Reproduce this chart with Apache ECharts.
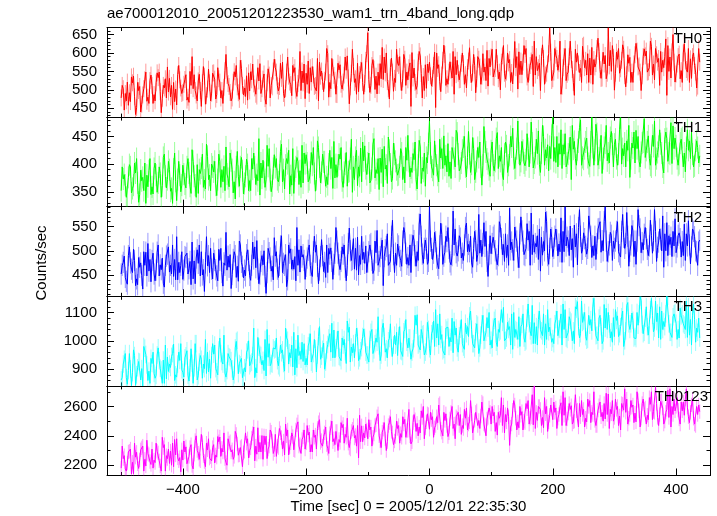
<!DOCTYPE html>
<html>
<head>
<meta charset="utf-8">
<script src="https://cdn.jsdelivr.net/npm/echarts@6/dist/echarts.min.js"></script>
<style>
  html, body { margin: 0; padding: 0; background: #fff; }
  #chart { width: 717px; height: 516px; }
</style>
</head>
<body>
<div id="chart"></div>
<script>
// ---- data ----
// Each 5 s slot holds three readings: "A" at t = -500 + 5*i s, "C" at t + 5/3 s, "B" at t + 10/3 s.
const TIME_START = -500;
const TIME_STEP = 5;
const SUB_STEP = 5 / 3;

const bandNames = ["TH0", "TH1", "TH2", "TH3", "TH0123"];
// typical 1-sigma error bar of a point in each band (counts/sec)
const errorBars = [23, 20, 22, 31, 49];

const th0A = [
  478,445,521,468,537,452,509,486,548,463,
  512,470,533,438,505,562,481,520,459,527,
  493,541,466,590,498,524,455,537,502,470,
  546,487,521,463,596,509,478,535,492,558,
  505,472,549,516,483,571,529,461,540,508,
  560,497,531,478,589,514,547,482,604,519,
  545,490,563,512,470,551,526,598,503,539,
  487,568,521,553,462,610,530,495,574,517,
  655,512,556,489,571,528,600,475,548,520,
  566,498,583,527,455,559,511,592,536,504,
  575,531,452,568,540,596,515,553,488,580,
  528,571,505,614,546,492,583,537,562,510,
  589,533,571,500,620,548,582,516,560,603,
  541,596,520,578,632,552,498,585,545,668,
  530,594,571,510,612,548,582,485,600,558,
  621,540,586,515,571,604,532,593,668,550,
  499,583,557,610,541,588,520,626,565,538,
  592,549,618,527,575,604,560,485,589,650,
  543,597,520,578,612,531,566,510
];
const th0C = [
  512,490,458,535,481,520,440,503,469,525,
  463,519,548,477,530,494,512,468,541,505,
  515,472,550,503,486,542,519,461,556,491,
  529,560,478,507,539,493,521,566,474,512,
  482,546,527,505,560,490,543,519,478,551,
  548,509,575,503,537,484,560,517,498,570,
  515,560,540,497,575,523,548,480,585,526,
  572,515,540,592,508,563,488,541,520,580,
  528,566,501,548,530,589,522,560,496,610,
  590,530,512,560,601,520,575,544,498,570,
  538,566,600,522,580,512,548,532,590,545,
  572,515,560,542,596,530,562,598,525,585,
  610,558,530,575,545,600,520,562,590,541,
  575,612,548,596,540,560,590,515,570,602,
  548,585,632,560,525,590,555,610,570,520,
  560,598,540,582,612,555,602,530,565,620,
  545,612,580,538,595,520,570,605,548,590,
  605,560,540,612,585,548,590,620,532,575,
  570,530,600,555,520,590,548,612
];
const th0B = [
  503,470,492,519,433,498,461,527,480,540,
  487,546,495,512,478,531,447,502,566,490,
  528,480,512,541,470,498,563,484,519,545,
  475,530,498,552,517,470,549,508,580,486,
  538,497,570,488,524,503,476,557,512,583,
  511,572,490,548,521,566,499,532,551,476,
  578,521,509,585,537,495,612,520,560,488,
  554,502,589,532,545,520,572,553,488,598,
  493,582,537,512,615,546,503,586,531,572,
  521,596,548,573,532,501,604,478,568,547,
  510,602,558,495,621,530,576,604,541,527,
  600,541,578,520,566,590,515,548,607,562,
  535,610,548,592,529,573,547,631,502,578,
  620,535,566,509,590,572,622,540,598,525,
  612,553,488,590,542,632,520,575,547,618,
  580,520,615,562,640,531,570,545,607,588,
  602,545,622,508,572,548,595,562,498,611,
  548,632,570,595,512,580,638,550,603,521,
  590,552,625,548,584,600,505,575
];

const th1A = [
  352,381,338,395,362,410,345,376,329,388,
  359,402,366,340,418,372,351,391,334,380,
  398,357,384,426,362,347,393,371,414,352,
  386,343,405,368,431,359,390,337,378,412,
  365,399,352,420,381,344,407,372,428,361,
  394,368,436,355,401,379,347,412,388,366,
  417,372,398,351,430,385,404,363,392,441,
  376,409,358,421,387,349,412,395,368,433,
  402,370,446,383,411,359,398,425,374,405,
  381,420,366,452,393,408,355,431,387,412,
  478,389,415,368,428,398,437,374,410,456,
  392,431,377,419,448,386,412,362,440,401,
  424,388,457,405,372,433,416,465,393,420,
  441,397,428,476,402,419,385,450,411,432,
  485,403,437,392,455,418,372,441,426,480,
  409,447,396,430,472,411,383,438,420,459,
  436,398,484,415,442,376,429,461,405,438,
  412,451,395,478,421,437,384,446,418,469,
  433,401,448,386,425,458,397,430
];
const th1C = [
  395,362,376,348,402,366,389,352,380,410,
  346,380,395,361,378,405,356,420,372,350,
  382,395,360,405,340,390,418,355,372,400,
  405,372,358,396,382,420,348,395,360,388,
  378,352,410,395,370,402,385,434,372,392,
  410,380,368,398,425,362,388,405,358,420,
  402,385,430,372,395,418,360,400,412,375,
  398,430,385,360,410,395,425,378,440,392,
  420,392,375,410,385,432,365,400,438,390,
  395,372,430,405,385,440,398,365,420,402,
  420,380,398,445,392,415,378,430,395,418,
  402,450,412,385,428,405,440,398,422,390,
  440,405,392,430,418,385,450,410,428,398,
  425,408,395,438,412,460,420,398,435,410,
  405,450,418,435,395,428,470,410,440,398,
  428,412,440,398,455,425,410,470,402,436,
  445,418,400,438,425,410,458,428,395,440,
  425,410,452,398,432,420,445,405,475,428,
  410,438,395,430,442,418,425,402
];
const th1B = [
  373,340,399,356,384,331,370,402,359,345,
  392,349,383,412,357,390,329,369,405,362,
  364,410,347,378,399,383,358,436,380,395,
  362,418,390,352,374,406,368,423,395,346,
  409,370,391,363,446,375,358,396,350,417,
  372,423,390,410,346,428,395,363,434,401,
  368,421,383,442,366,404,377,425,356,399,
  418,370,400,386,445,372,361,429,406,381,
  366,436,390,354,427,391,449,368,418,380,
  428,395,407,377,419,372,443,393,360,437,
  395,442,380,411,451,386,404,429,461,388,
  425,395,459,400,372,430,395,468,409,378,
  398,446,415,380,440,398,431,392,478,405,
  402,455,421,393,445,399,470,426,388,452,
  430,395,462,418,402,449,427,398,466,412,
  440,401,485,425,398,452,430,406,448,395,
  410,463,428,395,470,438,402,450,421,482,
  440,398,432,410,462,395,458,420,401,447,
  398,445,420,462,410,395,442,415
];

const th2A = [
  452,489,431,475,503,442,466,421,497,458,
  480,438,512,461,425,493,470,447,529,455,
  441,486,463,518,432,474,498,416,469,505,
  495,448,480,427,538,466,451,490,437,476,
  460,502,439,483,521,452,471,412,496,468,
  489,445,531,470,440,504,462,548,456,492,
  468,512,447,497,432,523,476,455,506,472,
  520,461,493,438,547,482,505,450,530,474,
  477,515,460,542,488,428,509,471,563,495,
  510,468,537,486,455,521,498,576,474,505,
  591,482,519,463,534,497,548,471,512,489,
  526,480,557,498,466,521,575,488,509,447,
  494,532,471,550,513,486,588,502,528,465,
  541,490,522,578,497,531,458,519,560,505,
  488,545,514,476,591,520,502,553,471,530,
  537,493,568,510,482,546,521,591,498,532,
  505,560,487,528,579,499,541,472,552,517,
  548,490,532,585,507,524,466,558,513,540,
  496,537,519,480,562,508,529,470
];
const th2C = [
  470,445,490,462,480,430,475,498,448,482,
  495,460,448,485,470,508,452,482,440,470,
  460,495,478,442,485,512,450,475,490,462,
  480,438,505,475,460,492,482,445,520,468,
  448,480,470,508,462,478,500,455,485,440,
  498,470,455,492,512,462,488,470,510,480,
  485,470,498,512,460,490,445,505,478,495,
  495,478,512,470,500,525,460,490,482,510,
  498,480,520,470,505,488,535,478,492,470,
  488,520,495,470,512,490,480,530,505,472,
  520,495,485,510,472,530,505,490,545,500,
  485,512,498,530,505,478,495,515,540,492,
  515,500,490,525,478,512,502,480,520,535,
  520,505,540,492,515,482,528,500,490,545,
  505,522,498,540,510,490,525,508,548,495,
  525,505,530,490,515,560,500,520,512,480,
  520,498,540,505,530,512,488,520,545,502,
  525,510,495,540,518,500,535,490,528,510,
  508,525,490,535,512,545,500,518
];
const th2B = [
  476,437,508,455,428,486,449,470,515,436,
  452,497,471,433,489,456,512,440,476,498,
  488,452,430,479,502,448,461,529,455,442,
  461,503,455,470,489,422,498,468,512,444,
  492,449,518,465,432,490,447,505,458,527,
  462,510,474,426,495,481,438,502,487,441,
  501,454,530,468,488,457,512,493,441,548,
  471,508,466,515,480,462,528,472,497,455,
  512,453,496,478,522,502,470,530,455,514,
  480,548,472,512,532,468,555,493,522,478,
  505,538,470,557,489,519,477,582,496,531,
  495,548,513,475,540,492,522,558,478,531,
  528,483,560,492,535,470,518,549,487,570,
  492,556,470,533,508,545,491,580,472,527,
  530,489,568,498,528,551,466,535,585,503,
  509,572,486,530,545,497,560,478,538,520,
  540,492,575,515,468,552,520,585,496,534,
  503,563,521,478,545,572,500,531,488,566,
  532,487,555,510,473,540,498,522
];

const th3A = [
  862,935,847,901,968,880,925,841,952,893,
  920,868,975,897,850,943,906,988,872,931,
  889,947,858,921,990,877,935,902,960,868,
  953,891,1010,918,872,944,901,975,884,938,
  905,968,920,1045,887,952,931,876,990,918,
  971,912,958,893,1002,940,1030,905,963,927,
  938,995,918,972,1015,946,900,987,960,1038,
  1002,941,985,920,1048,958,993,930,976,1012,
  950,1030,968,995,930,1062,972,1008,945,985,
  1018,962,1040,975,935,1008,1092,968,1025,981,
  972,1035,1110,985,1022,950,1048,996,1068,975,
  1041,978,1025,1088,990,1032,955,1060,1003,1045,
  1002,1072,980,1035,1118,1010,1050,970,1040,1085,
  1058,995,1130,1018,1064,985,1040,1095,1005,1048,
  1008,1075,1042,985,1110,1030,1066,990,1138,1025,
  1070,1002,1055,1120,1018,1080,990,1045,1100,1032,
  1015,1088,1050,980,1125,1040,1072,1008,1095,1058,
  1080,1020,1150,1045,1098,1005,1068,1157,1030,1085,
  1062,1010,1095,1040,1120,985,1075,1030
];
const th3C = [
  870,955,895,842,948,905,862,980,915,850,
  960,878,930,850,985,892,945,860,918,990,
  872,965,905,850,990,925,868,1005,890,948,
  985,880,955,1020,895,940,862,998,920,870,
  890,1000,925,870,1012,948,895,1040,912,975,
  1010,905,968,1045,918,985,880,1020,935,990,
  915,1025,955,890,1050,970,925,1010,1062,940,
  1035,930,1005,1070,925,990,1045,940,1015,960,
  925,1040,990,1085,950,1015,940,1060,985,1030,
  1050,945,1075,1010,960,1090,985,1040,950,1065,
  950,1070,1010,1095,965,1045,980,1080,1020,960,
  1075,970,1050,1105,990,1060,975,1090,1030,1100,
  975,1080,1040,1110,1000,1065,985,1100,1035,980,
  1095,1000,1060,1125,990,1075,1035,985,1110,1050,
  990,1105,1040,1130,1010,1085,1000,1120,1050,1140,
  1100,1005,1075,1150,1020,1090,1000,1115,1060,995,
  1110,1015,1085,1000,1135,1060,1010,1100,1155,1025,
  1120,1020,1090,1140,1010,1105,1050,1157,1030,1095,
  1005,1115,1060,1140,1020,1090,995,1080
];
const th3B = [
  918,870,955,888,843,927,902,974,860,938,
  885,950,903,932,866,918,955,880,960,898,
  940,879,972,905,862,948,918,885,935,990,
  902,968,927,886,955,930,880,1002,915,872,
  960,912,948,905,978,915,1005,942,920,968,
  930,985,920,1010,958,908,972,948,995,915,
  982,925,1005,950,935,992,968,1025,940,975,
  945,1010,962,1030,978,940,1015,965,1042,950,
  1005,955,1010,982,1045,960,1000,975,1020,948,
  965,1032,995,1010,972,1055,990,1022,960,1040,
  1025,980,1060,1005,970,1038,1012,958,1045,1018,
  990,1062,1015,1040,975,1055,1020,1000,1082,985,
  1048,995,1030,1065,1002,1040,1095,1012,1005,1050,
  1010,1080,1035,990,1050,1105,1018,1060,1032,995,
  1060,1018,1095,1040,1005,1072,1035,1112,1010,1065,
  1015,1090,1035,1068,1000,1050,1128,1040,1010,1082,
  1072,1025,1105,1035,1060,1098,1015,1055,1142,1030,
  1050,1110,1032,1068,1120,1040,1095,1060,1012,1100,
  1040,1088,1055,1012,1075,1130,1045,1010
];

const th0123A = [
  2180,2265,2215,2310,2142,2288,2236,2330,2195,2272,
  2310,2218,2284,2160,2340,2245,2296,2190,2380,2252,
  2235,2325,2260,2198,2368,2282,2410,2225,2305,2258,
  2340,2255,2392,2290,2218,2350,2305,2430,2268,2328,
  2295,2380,2318,2460,2275,2355,2240,2398,2330,2365,
  2410,2320,2388,2270,2440,2352,2305,2475,2340,2392,
  2352,2425,2290,2405,2490,2368,2420,2315,2455,2380,
  2430,2355,2478,2390,2320,2445,2402,2250,2468,2385,
  2380,2460,2412,2530,2365,2445,2300,2490,2420,2395,
  2470,2390,2512,2438,2345,2545,2485,2420,2600,2495,
  2445,2530,2470,2610,2425,2505,2395,2560,2480,2520,
  2545,2450,2590,2495,2420,2560,2505,2630,2470,2525,
  2480,2560,2405,2540,2610,2495,2335,2575,2520,2455,
  2565,2490,2640,2530,2740,2505,2580,2455,2600,2540,
  2510,2590,2545,2470,2660,2555,2605,2500,2575,2530,
  2580,2495,2640,2545,2470,2605,2560,2515,2685,2550,
  2525,2600,2440,2575,2650,2545,2610,2495,2570,2620,
  2590,2510,2700,2560,2525,2635,2480,2580,2720,2545,
  2600,2515,2570,2650,2530,2610,2480,2545
];
const th0123C = [
  2330,2175,2290,2140,2350,2210,2305,2160,2370,2225,
  2180,2350,2230,2390,2160,2310,2200,2375,2250,2155,
  2365,2210,2320,2175,2400,2240,2355,2190,2380,2230,
  2215,2395,2260,2420,2200,2360,2240,2410,2270,2190,
  2420,2250,2385,2230,2455,2290,2400,2245,2440,2280,
  2260,2450,2310,2480,2270,2420,2300,2495,2280,2440,
  2470,2290,2440,2310,2510,2330,2460,2280,2500,2340,
  2300,2490,2350,2520,2310,2470,2330,2540,2360,2480,
  2510,2330,2470,2550,2320,2490,2360,2530,2340,2500,
  2350,2530,2390,2580,2360,2510,2400,2570,2380,2550,
  2560,2390,2530,2620,2400,2550,2420,2600,2380,2560,
  2410,2580,2440,2640,2420,2570,2450,2620,2400,2590,
  2600,2430,2560,2660,2420,2590,2460,2640,2440,2600,
  2440,2620,2480,2680,2450,2600,2470,2660,2430,2610,
  2630,2450,2600,2700,2470,2620,2480,2680,2460,2640,
  2460,2650,2490,2700,2470,2630,2500,2690,2450,2640,
  2650,2470,2620,2720,2480,2640,2490,2700,2460,2650,
  2480,2660,2510,2730,2470,2640,2500,2710,2460,2650,
  2660,2480,2630,2720,2490,2650,2470,2610
];
const th0123B = [
  2245,2160,2295,2220,2255,2178,2318,2240,2280,2205,
  2235,2295,2195,2320,2265,2212,2350,2270,2230,2305,
  2290,2200,2340,2275,2300,2230,2265,2350,2248,2320,
  2270,2360,2315,2245,2380,2290,2260,2345,2320,2285,
  2350,2300,2415,2330,2290,2402,2340,2310,2425,2305,
  2330,2420,2365,2400,2325,2395,2440,2330,2375,2310,
  2405,2340,2390,2450,2355,2395,2340,2415,2360,2430,
  2375,2455,2410,2350,2430,2385,2470,2360,2420,2440,
  2440,2390,2475,2400,2425,2380,2470,2430,2365,2450,
  2415,2480,2435,2400,2490,2430,2460,2525,2455,2545,
  2510,2455,2490,2445,2560,2470,2515,2450,2530,2470,
  2470,2520,2480,2550,2505,2470,2535,2480,2515,2560,
  2535,2490,2520,2470,2545,2530,2480,2610,2495,2540,
  2500,2585,2520,2475,2560,2600,2525,2550,2495,2610,
  2560,2520,2625,2540,2515,2580,2495,2570,2620,2545,
  2520,2600,2560,2505,2575,2530,2620,2545,2580,2500,
  2580,2535,2615,2560,2520,2595,2555,2640,2520,2580,
  2540,2615,2565,2620,2545,2590,2560,2525,2600,2570,
  2575,2630,2540,2595,2560,2520,2600,2565
];

// axis ranges and tick steps per panel
const xRange = [-523, 455];
const xTickStep = 200;
const yRanges = [[426, 669], [323, 485], [406, 591], [841, 1157], [2130, 2740]];
const yTickSteps = [50, 50, 50, 100, 200];
const yMinorSplits = [5, 5, 5, 5, 2];
const ySplitNumbers = [5, 3, 4, 3, 3];

const titleText = "ae700012010_20051201223530_wam1_trn_4band_long.qdp";
const xTitle = "Time [sec] 0 = 2005/12/01 22:35:30";
const yTitle = "Counts/sec";

const seriesA = [th0A, th1A, th2A, th3A, th0123A];
const seriesC = [th0C, th1C, th2C, th3C, th0123C];
const seriesB = [th0B, th1B, th2B, th3B, th0123B];
const colors = ["#ff0000", "#00ff00", "#0000ff", "#00ffff", "#ff00ff"];
const errColors = ["rgba(255,0,0,0.4)", "rgba(0,255,0,0.4)", "rgba(0,0,255,0.4)",
                   "rgba(0,255,255,0.4)", "rgba(255,0,255,0.4)"];

// ---- layout ----
const FONT = "'Liberation Sans', Arial, Helvetica, sans-serif";
const plotLeft = 107, plotRight = 7, plotTop = 27.5, plotBottom = 475.5;
const panelH = (plotBottom - plotTop) / 5;

function fmtNum(v) { return String(v).replace('-', '\u2212'); }

function buildPoints(a, c, b) {
  const pts = [];
  for (let i = 0; i < a.length; i++) {
    const t = TIME_START + i * TIME_STEP;
    pts.push([t, a[i]]);
    if (i < c.length) pts.push([t + SUB_STEP, c[i]]);
    if (i < b.length) pts.push([t + 2 * SUB_STEP, b[i]]);
  }
  return pts;
}

const grids = [], xAxes = [], yAxes = [], series = [], graphics = [];
const black = { color: '#000', width: 1 };

for (let k = 0; k < 5; k++) {
  const top = plotTop + k * panelH;
  grids.push({ left: plotLeft, right: plotRight, top: top, height: panelH, containLabel: false });

  const xBase = {
    type: 'value', gridIndex: k, min: xRange[0], max: xRange[1], splitNumber: 5,
    axisLine: { show: true, onZero: false, lineStyle: black },
    axisTick: { show: true, inside: true, length: 7, lineStyle: black },
    minorTick: { show: true, splitNumber: 2, length: 3.5, lineStyle: black },
    splitLine: { show: false }, minorSplitLine: { show: false }
  };
  xAxes.push(Object.assign({}, xBase, {
    position: 'bottom',
    axisLabel: {
      show: k === 4, margin: 7, fontSize: 15, color: '#000', fontFamily: FONT,
      formatter: v => (Math.abs(v % xTickStep) < 1e-6 ? fmtNum(v) : '')
    }
  }));
  xAxes.push(Object.assign({}, xBase, { position: 'top', axisLabel: { show: false } }));

  const yBase = {
    type: 'value', gridIndex: k, min: yRanges[k][0], max: yRanges[k][1],
    splitNumber: ySplitNumbers[k],
    axisLine: { show: true, onZero: false, lineStyle: black },
    axisTick: { show: true, inside: true, length: 7, lineStyle: black },
    minorTick: { show: true, splitNumber: yMinorSplits[k], length: 3.5, lineStyle: black },
    splitLine: { show: false }, minorSplitLine: { show: false }
  };
  const step = yTickSteps[k];
  yAxes.push(Object.assign({}, yBase, {
    position: 'left',
    axisLabel: {
      show: true, margin: 10, fontSize: 15, color: '#000', fontFamily: FONT,
      formatter: v => (Math.abs(v % step) < 1e-6 ? fmtNum(v) : '')
    }
  }));
  yAxes.push(Object.assign({}, yBase, { position: 'right', axisLabel: { show: false } }));

  const pts = buildPoints(seriesA[k], seriesC[k], seriesB[k]);
  const err = errorBars[k];

  // error bars (lighter shade, under the line)
  series.push({
    type: 'custom', xAxisIndex: 2 * k, yAxisIndex: 2 * k,
    data: pts, clip: true, z: 1, animation: false, silent: true,
    renderItem: function (params, api) {
      const t = api.value(0), v = api.value(1);
      const p1 = api.coord([t, v - err]);
      const p2 = api.coord([t, v + err]);
      return {
        type: 'line',
        shape: { x1: p1[0], y1: p1[1], x2: p2[0], y2: p2[1] },
        style: { stroke: errColors[k], lineWidth: 1 }
      };
    }
  });

  series.push({
    type: 'line', xAxisIndex: 2 * k, yAxisIndex: 2 * k,
    data: pts, z: 2,
    showSymbol: false, symbol: 'none', clip: true,
    lineStyle: { color: colors[k], width: 1 },
    itemStyle: { color: colors[k] },
    animation: false
  });

  graphics.push({
    type: 'text', x: k === 4 ? 708 : 702, y: top + 11, z: 100,
    style: {
      text: bandNames[k], align: 'right', verticalAlign: 'middle',
      font: '15px ' + FONT, fill: '#000'
    }
  });
}

graphics.push({
  type: 'text', x: 107, y: 14,
  style: { text: titleText, align: 'left', verticalAlign: 'middle', font: '15px ' + FONT, fill: '#000' }
});
graphics.push({
  type: 'text', x: 408.5, y: 507,
  style: { text: xTitle, align: 'center', verticalAlign: 'middle', font: '15px ' + FONT, fill: '#000' }
});
graphics.push({
  type: 'text', x: 42, y: 263, rotation: Math.PI / 2,
  style: { text: yTitle, align: 'center', verticalAlign: 'middle', font: '15px ' + FONT, fill: '#000' }
});

const chart = echarts.init(document.getElementById('chart'), null, { renderer: 'canvas' });
chart.setOption({
  animation: false,
  backgroundColor: '#fff',
  grid: grids,
  xAxis: xAxes,
  yAxis: yAxes,
  series: series,
  graphic: graphics
});
</script>
</body>
</html>
